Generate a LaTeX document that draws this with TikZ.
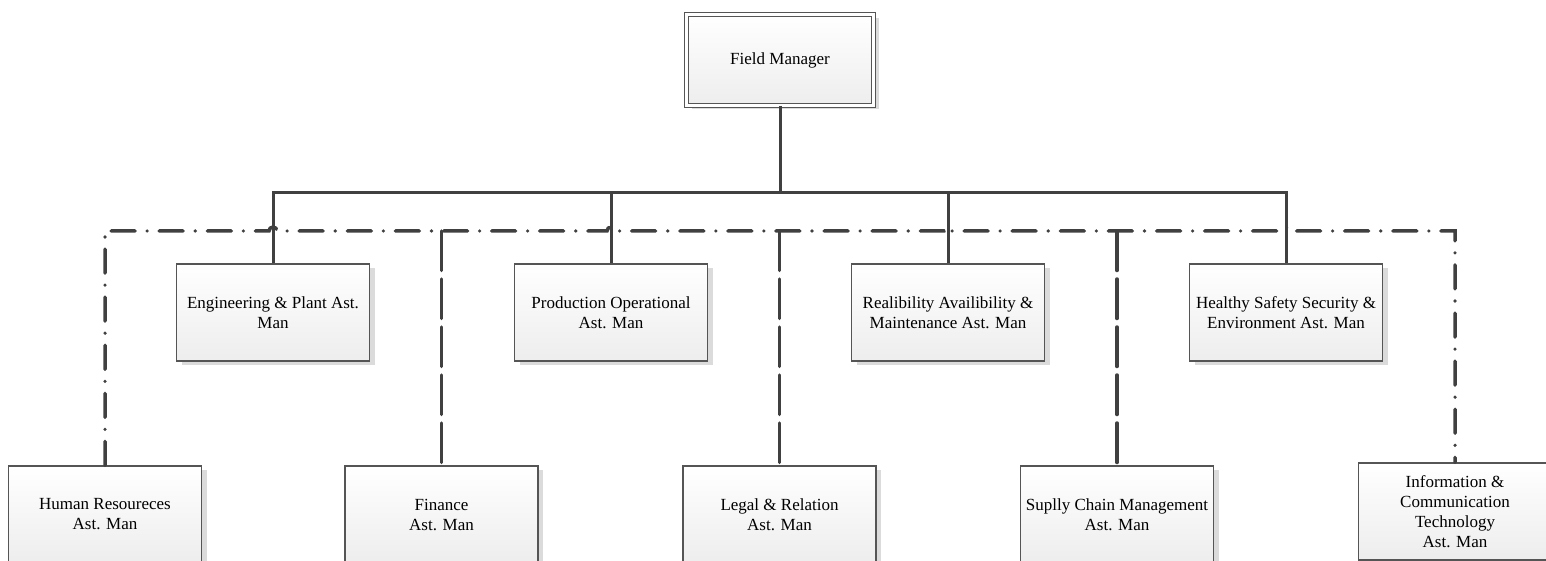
\documentclass[tikz,border=0pt]{standalone}
\usepackage{fontspec}
\setmainfont{Liberation Serif}
\usetikzlibrary{calc,shadows}
\definecolor{boxline}{HTML}{555555}
\definecolor{linegray}{HTML}{404040}

\begin{document}
\begin{tikzpicture}[x=1pt,y=-1pt,
  box/.style={draw=boxline,line width=1.1pt,top color=white,bottom color=gray!14,
    minimum width=193pt,minimum height=97pt,inner sep=2pt,align=center,
    font=\fontsize{17}{20}\selectfont,
    drop shadow={shadow xshift=5pt,shadow yshift=-4pt,fill=gray!28,opacity=1}},
  topbox/.style={box,double=white,double distance=2.5pt,line width=1pt,
    minimum width=187pt,minimum height=91pt},
  conn/.style={draw=linegray,line width=3pt},
  dashdot/.style={draw=linegray,line width=3.5pt,line cap=round,
    dash pattern=on 24pt off 12pt on 0.1pt off 12pt},
  longdash/.style={draw=linegray,line width=3.5pt,line cap=round,
    dash pattern=on 39.5pt off 8.5pt}]
\useasboundingbox (0,0) rectangle (1546,561);
\clip (0,0) rectangle (1546,561);

% top
\node[topbox] (fm) at (780,60) {Field Manager};

% line managers
\node[box] (eng) at (273,312.5) {Engineering \& Plant Ast.\\Man};
\node[box] (prod) at (611,312.5) {Production Operational\\Ast. Man};
\node[box] (ram) at (948,312.5) {Realibility Availibility \&\\Maintenance Ast. Man};
\node[box] (hse) at (1286,312.5) {Healthy Safety Security \&\\Environment Ast. Man};

% support
\node[box] (hr) at (105,514.5) {Human Resoureces\\Ast. Man};
\node[box] (fin) at (441.5,514.5) {Finance\\Ast. Man};
\node[box] (legal) at (779.5,514.5) {Legal \& Relation\\Ast. Man};
\node[box] (scm) at (1117,514.5) {Suplly Chain Management\\Ast. Man};
\node[box] (ict) at (1455,511.5) {Information \&\\Communication\\Technology\\Ast. Man};

\coordinate (bus) at (780,193);
\coordinate (dd) at (780,231);

\draw[conn] (fm.south) -- (fm.south |- bus);
\draw[conn] (eng.north) -- (eng.north |- bus) -- (hse.north |- bus) -- (hse.north);
\draw[conn] (prod.north) -- (prod.north |- bus);
\draw[conn] (ram.north) -- (ram.north |- bus);

\draw[dashdot] (hr.north) -- (hr.north |- dd)
  -- ($(eng.north |- dd)+(-4,0)$) arc[start angle=180,end angle=360,radius=4]
  -- ($(prod.north |- dd)+(-4,0)$) arc[start angle=180,end angle=360,radius=4]
  -- ($(ram.north |- dd)+(-4,0)$) arc[start angle=180,end angle=360,radius=4]
  -- ($(hse.north |- dd)+(-4,0)$) arc[start angle=180,end angle=360,radius=4]
  -- (ict.north |- dd) -- (ict.north);
\draw[longdash] (fin.north |- dd) -- (fin.north);
\draw[longdash] (legal.north |- dd) -- (legal.north);
\draw[longdash] (scm.north |- dd) -- (scm.north);
\end{tikzpicture}
\end{document}
